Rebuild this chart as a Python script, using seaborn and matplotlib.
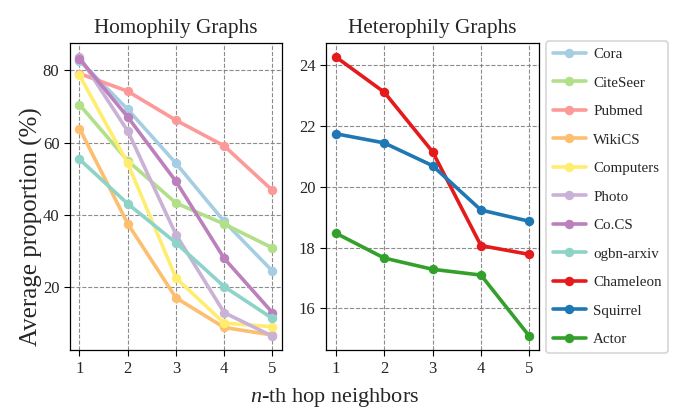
import matplotlib
matplotlib.use("Agg")
import matplotlib.pyplot as plt
import seaborn as sns
import numpy as np

hops = [1, 2, 3, 4, 5]

homo_names = ["Cora", "CiteSeer", "Pubmed", "WikiCS", "Computers", "Photo", "Co.CS", "ogbn-arxiv"]
cora = [82.7, 69.2, 54.3, 38.2, 24.5]
citeseer = [70.5, 55.0, 43.3, 37.5, 30.9]
pubmed = [79.1, 74.2, 66.2, 59.1, 46.8]
wikics = [63.9, 37.6, 17.1, 8.9, 6.8]
computers = [78.6, 54.3, 22.6, 10.1, 9.1]
photo = [83.7, 63.2, 34.6, 13.0, 6.5]
cocs = [83.2, 67.1, 49.3, 28.0, 13.0]
arxiv = [55.4, 43.1, 32.3, 20.2, 11.4]
homo_vals = [cora, citeseer, pubmed, wikics, computers, photo, cocs, arxiv]
homo_colors = ["#a6cee3", "#b2df8a", "#fb9a99", "#fdbf6f", "#ffed6f", "#cab2d6", "#bc80bd", "#8dd3c7"]

hetero_names = ["Chameleon", "Squirrel", "Actor"]
chameleon = [24.28, 23.12, 21.16, 18.07, 17.78]
squirrel = [21.75, 21.45, 20.70, 19.24, 18.87]
actor = [18.48, 17.66, 17.29, 17.10, 15.09]
hetero_vals = [chameleon, squirrel, actor]
hetero_colors = ["#e41a1c", "#1f78b4", "#33a02c"]

sns.set_theme(style="ticks")
plt.rcParams["font.family"] = ["Liberation Serif", "DejaVu Serif"]
plt.rcParams["mathtext.fontset"] = "custom"
plt.rcParams["mathtext.it"] = "Liberation Serif:italic"
plt.rcParams["mathtext.rm"] = "Liberation Serif"

fig = plt.figure(figsize=(6.78, 4.09), dpi=100)
ax1 = fig.add_axes([0.103, 0.144, 0.313, 0.751])
ax2 = fig.add_axes([0.481, 0.144, 0.314, 0.751])

for name, vals, c in zip(homo_names, homo_vals, homo_colors):
    sns.lineplot(x=hops, y=vals, ax=ax1, color=c, marker="o", markersize=6.8,
                 linewidth=2.6, markeredgewidth=0, label=name, legend=False)
for name, vals, c in zip(hetero_names, hetero_vals, hetero_colors):
    sns.lineplot(x=hops, y=vals, ax=ax2, color=c, marker="o", markersize=6.8,
                 linewidth=2.6, markeredgewidth=0, label=name, legend=False)

for ax, title in [(ax1, "Homophily Graphs"), (ax2, "Heterophily Graphs")]:
    ax.set_title(title, fontsize=15.3, pad=7)
    ax.set_xticks(hops)
    ax.grid(True, linestyle="--", color="gray", linewidth=0.8, alpha=0.9)
    ax.tick_params(labelsize=12, direction="out", length=4, width=0.8, color="black")
    ax.set_xlabel("")
    ax.set_ylabel("")
    for s in ax.spines.values():
        s.set_color("black")
        s.set_linewidth(0.9)

ax1.set_yticks([20, 40, 60, 80])
ax2.set_yticks([16, 18, 20, 22, 24])

fig.text(0.046, 0.447, "Average proportion (%)", ha="center", va="center",
         rotation=90, fontsize=18)
fig.text(0.493, 0.027, "$n$-th hop neighbors", ha="center", va="center", fontsize=16)

handles, labels = [], []
for ax in (ax1, ax2):
    h, l = ax.get_legend_handles_labels()
    handles += h
    labels += l
leg = fig.legend(handles, labels, loc="upper left", bbox_to_anchor=(0.805, 0.9),
                 fontsize=10.8, labelspacing=1.0, handlelength=2.2, handletextpad=0.5,
                 borderpad=0.45, borderaxespad=0.0,
                 frameon=True, fancybox=True, edgecolor="#cccccc")
leg.get_frame().set_linewidth(1.2)

fig.savefig("out.png", dpi=100)
